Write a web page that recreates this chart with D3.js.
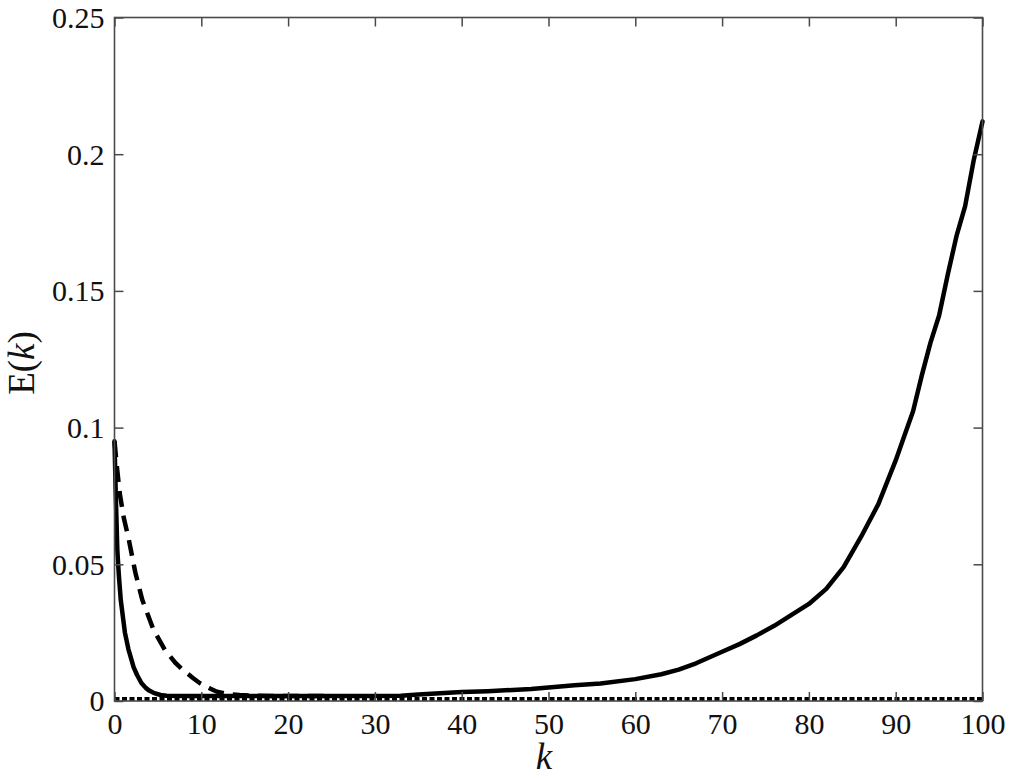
<!DOCTYPE html>
<html>
<head>
<meta charset="utf-8">
<script src="https://cdn.jsdelivr.net/npm/d3@7"></script>
<style>
  html, body { margin: 0; padding: 0; background: #fff; }
  svg { display: block; }
</style>
</head>
<body>
<svg id="chart" width="1011" height="778"></svg>
<script>
// ---- data ----
const xTicks = [0, 10, 20, 30, 40, 50, 60, 70, 80, 90, 100];
const yTicks = [0, 0.05, 0.1, 0.15, 0.2, 0.25];
const yTickLabels = ["0", "0.05", "0.1", "0.15", "0.2", "0.25"];

// solid curve: fast decay then growth
const solidK = [0, 0.15, 0.33, 0.5, 0.72, 1.0, 1.2, 1.6, 2.2, 2.6, 3.1, 3.6, 4.0, 4.5, 5.3, 6, 8, 10, 15, 20, 25, 30, 33, 35, 38, 40, 43, 45, 48, 50, 53, 56, 60, 63, 65, 67, 70, 72, 74, 76, 78, 80, 82, 84, 86, 88, 90, 91, 92, 93, 94, 95, 96, 97, 98, 99, 100];
const solidE = [0.095, 0.075, 0.055, 0.046, 0.037, 0.030, 0.025, 0.019, 0.0124, 0.0095, 0.0066, 0.0048, 0.0038, 0.0030, 0.0022, 0.0019, 0.0018, 0.0018, 0.0018, 0.0018, 0.0018, 0.0018, 0.0019, 0.0024, 0.0029, 0.0033, 0.0036, 0.0039, 0.0044, 0.0049, 0.0058, 0.0064, 0.0080, 0.0098, 0.0115, 0.0138, 0.0180, 0.0208, 0.0240, 0.0275, 0.0315, 0.0355, 0.0410, 0.0490, 0.0600, 0.0720, 0.0880, 0.0970, 0.1060, 0.1190, 0.1310, 0.1410, 0.1560, 0.1700, 0.1810, 0.1980, 0.2120];

// dashed curve: slower decay
const dashedK = [0, 0.3, 0.6, 1.07, 1.65, 2.4, 3.2, 4.5, 5.8, 7, 7.9, 9, 9.8, 11, 11.8, 13, 14.4, 16, 18, 20, 25];
const dashedE = [0.095, 0.085, 0.076, 0.067, 0.059, 0.047, 0.037, 0.026, 0.0187, 0.014, 0.0113, 0.0085, 0.0066, 0.0046, 0.0034, 0.0026, 0.0022, 0.0019, 0.0018, 0.0018, 0.0018];

// dotted curve: almost zero everywhere
const dottedK = [0, 10, 20, 30, 40, 50, 60, 70, 80, 90, 100];
const dottedE = [0.0007, 0.0007, 0.0007, 0.0007, 0.0007, 0.0007, 0.0007, 0.0007, 0.0007, 0.0007, 0.0007];

// ---- layout ----
const svg = d3.select("#chart");
const mLeft = 114.5, mRight = 982.5, mTop = 17.5, mBottom = 701;
const x = d3.scaleLinear().domain([0, 100]).range([mLeft, mRight]);
const y = d3.scaleLinear().domain([0, 0.25]).range([mBottom, mTop]);

const serif = "'Liberation Serif', 'DejaVu Serif', serif";
const frameColor = "#4a4a4a";
const tickLen = 9;

// curves
const line = d3.line().x(d => x(d[0])).y(d => y(d[1]));
const zip = (a, b) => a.map((v, i) => [v, b[i]]);

svg.append("path")
  .datum(zip(dottedK, dottedE))
  .attr("d", line)
  .attr("fill", "none")
  .attr("stroke", "#000")
  .attr("stroke-width", 4)
  .attr("stroke-dasharray", "5,2.5");

svg.append("path")
  .datum(zip(dashedK, dashedE))
  .attr("d", line)
  .attr("fill", "none")
  .attr("stroke", "#000")
  .attr("stroke-width", 4.5)
  .attr("stroke-dasharray", "16,9");

svg.append("path")
  .datum(zip(solidK, solidE))
  .attr("d", line)
  .attr("fill", "none")
  .attr("stroke", "#000")
  .attr("stroke-width", 4.5)
  .attr("stroke-linejoin", "round")
  .attr("stroke-linecap", "round");

// axes (ticks pointing inward)
function styleAxis(g) {
  g.select(".domain").remove();
  g.selectAll(".tick line").attr("stroke", frameColor).attr("stroke-width", 1.5);
}

const xAxis = svg.append("g")
  .attr("transform", `translate(0,${mBottom})`)
  .call(d3.axisBottom(x).tickValues(xTicks).tickSize(-tickLen).tickFormat(d3.format("d")));
styleAxis(xAxis);
xAxis.selectAll(".tick text")
  .attr("y", 33).attr("dy", 0)
  .attr("font-family", serif).attr("font-size", 30).attr("fill", "#111");

const xAxisTop = svg.append("g")
  .attr("transform", `translate(0,${mTop})`)
  .call(d3.axisTop(x).tickValues(xTicks).tickSize(-tickLen).tickFormat(""));
styleAxis(xAxisTop);

const yAxis = svg.append("g")
  .attr("transform", `translate(${mLeft},0)`)
  .call(d3.axisLeft(y).tickValues(yTicks).tickSize(-tickLen).tickFormat((d, i) => yTickLabels[i]));
styleAxis(yAxis);
yAxis.selectAll(".tick text")
  .attr("x", -10).attr("dy", "0.33em")
  .attr("font-family", serif).attr("font-size", 30).attr("fill", "#111");

const yAxisRight = svg.append("g")
  .attr("transform", `translate(${mRight},0)`)
  .call(d3.axisRight(y).tickValues(yTicks).tickSize(-tickLen).tickFormat(""));
styleAxis(yAxisRight);

// frame
svg.append("rect")
  .attr("x", mLeft).attr("y", mTop)
  .attr("width", mRight - mLeft).attr("height", mBottom - mTop)
  .attr("fill", "none").attr("stroke", frameColor).attr("stroke-width", 1.6);

// axis labels
svg.append("text")
  .attr("x", 544).attr("y", 769)
  .attr("text-anchor", "middle")
  .attr("font-family", serif).attr("font-size", 37).attr("font-style", "italic")
  .attr("fill", "#111")
  .text("k");

const yl = svg.append("text")
  .attr("transform", "translate(34,363) rotate(-90)")
  .attr("text-anchor", "middle")
  .attr("font-family", serif).attr("font-size", 37).attr("fill", "#111");
yl.append("tspan").text("E(");
yl.append("tspan").attr("font-style", "italic").text("k");
yl.append("tspan").text(")");
</script>
</body>
</html>
